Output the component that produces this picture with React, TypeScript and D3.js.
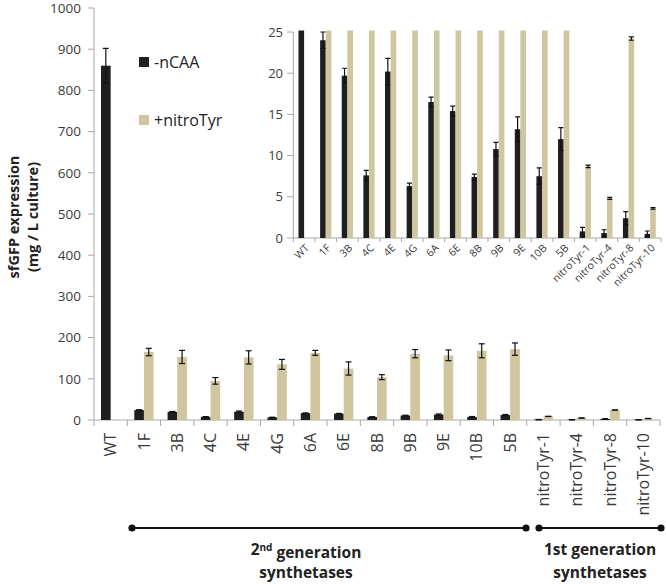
import React from "react";
import * as d3 from "d3";

const categories = ["WT","1F","3B","4C","4E","4G","6A","6E","8B","9B","9E","10B","5B","nitroTyr-1","nitroTyr-4","nitroTyr-8","nitroTyr-10"];
const nCAA = [860, 24.0, 19.7, 7.6, 20.2, 6.3, 16.5, 15.4, 7.4, 10.8, 13.2, 7.5, 12.0, 0.8, 0.6, 2.4, 0.5];
const nCAAErr = [42, 1.0, 0.9, 0.6, 1.6, 0.35, 0.6, 0.6, 0.35, 0.8, 1.5, 1.0, 1.4, 0.5, 0.4, 0.8, 0.35];
const nitroTyr = [0, 165, 153, 95, 152, 135, 163, 125, 104, 161, 157, 168, 172, 8.7, 4.8, 24.2, 3.6];
const nitroTyrErr = [0, 9, 16, 8, 16, 12, 6, 16, 6, 10, 13, 17, 15, 0.15, 0.12, 0.2, 0.1];
const mainTicks = [0, 100, 200, 300, 400, 500, 600, 700, 800, 900, 1000];
const insetTicks = [0, 5, 10, 15, 20, 25];
const legendLabels = ["-nCAA", "+nitroTyr"];
const groupLabels = ["2nd generation", "1st generation"];

const BLACK = "#1f1f1f";
const TAN = "#cfc59f";
const AXIS = "#a8a8a8";
const TXT = "#3a3a3a";
const FONT = "'Open Sans', sans-serif";

export default function App() {
  const W = 666, H = 584;
  // main chart scales
  const x = d3.scaleBand<string>().domain(categories).range([94, 660]).paddingInner(0).paddingOuter(0);
  const y = d3.scaleLinear().domain([0, 1000]).range([420, 8]);
  const bw = x.bandwidth() * 0.29;

  // inset scales
  const xi = d3.scaleBand<string>().domain(categories).range([293.3, 661]).paddingInner(0).paddingOuter(0);
  const yi = d3.scaleLinear().domain([0, 25]).range([238, 32]);
  const bwi = xi.bandwidth() * 0.26;

  const errBar = (cx: number, y1: number, y2: number, cap: number, key: string) => (
    <g key={key} stroke="#111" strokeWidth={1.2}>
      <line x1={cx} x2={cx} y1={y1} y2={y2} />
      <line x1={cx - cap / 2} x2={cx + cap / 2} y1={y1} y2={y1} />
      <line x1={cx - cap / 2} x2={cx + cap / 2} y1={y2} y2={y2} />
    </g>
  );

  return (
    <svg width={W} height={H} style={{ position: "absolute", left: 0, top: 0, background: "#fff" }} fontFamily={FONT}>
      <defs>
        <clipPath id="insetClip">
          <rect x={290} y={yi(25) - 1.5} width={380} height={yi(0) - yi(25) + 1.5} />
        </clipPath>
      </defs>
      <rect width={W} height={H} fill="#fff" />

      {/* ===== Main chart ===== */}
      <line x1={94} x2={94} y1={y(1000)} y2={y(0)} stroke={AXIS} strokeWidth={1} />
      {mainTicks.map((t) => (
        <g key={"mt" + t}>
          <line x1={88} x2={94} y1={y(t)} y2={y(t)} stroke={AXIS} />
          <text x={81} y={y(t)} dy="0.35em" textAnchor="end" fontSize={13.5} fill={TXT}>{t}</text>
        </g>
      ))}
      <line x1={94} x2={660} y1={y(0)} y2={y(0)} stroke={AXIS} />
      {categories.map((c) => (
        <line key={"mxt" + c} x1={x(c)!} x2={x(c)!} y1={y(0)} y2={y(0) + 6} stroke={AXIS} />
      ))}
      <line x1={660} x2={660} y1={y(0)} y2={y(0) + 6} stroke={AXIS} />
      {categories.map((c, i) => {
        const cx = x(c)! + x.bandwidth() / 2;
        return (
          <g key={"mb" + c}>
            <rect x={cx - bw} y={y(nCAA[i])} width={bw} height={y(0) - y(nCAA[i])} fill={BLACK} />
            {nitroTyr[i] > 0 && (
              <rect x={cx} y={y(nitroTyr[i])} width={bw} height={y(0) - y(nitroTyr[i])} fill={TAN} />
            )}
          </g>
        );
      })}
      {categories.map((c, i) => {
        const cx = x(c)! + x.bandwidth() / 2;
        return (
          <g key={"me" + c}>
            {errBar(cx - bw / 2, y(nCAA[i] + nCAAErr[i]), y(Math.max(0, nCAA[i] - nCAAErr[i])), 6, "a")}
            {nitroTyr[i] > 0 && errBar(cx + bw / 2, y(nitroTyr[i] + nitroTyrErr[i]), y(nitroTyr[i] - nitroTyrErr[i]), 6, "b")}
          </g>
        );
      })}
      {categories.map((c) => {
        const cx = x(c)! + x.bandwidth() / 2;
        return (
          <text key={"ml" + c} transform={`translate(${cx},${433}) rotate(-90)`} textAnchor="end" dy="0.35em" fontSize={16} fill={TXT}>{c}</text>
        );
      })}
      <g fontWeight="bold" fontSize={14.5} fill="#222">
        <text transform="translate(14,217) rotate(-90)" textAnchor="middle" dy="0.35em">sfGFP expression</text>
        <text transform="translate(33,217) rotate(-90)" textAnchor="middle" dy="0.35em">(mg / L culture)</text>
      </g>

      {/* legend */}
      <rect x={139} y={57} width={10} height={10} fill={BLACK} />
      <text x={154} y={62} dy="0.35em" fontSize={16} fill="#222">{legendLabels[0]}</text>
      <rect x={139} y={115} width={10} height={10} fill={TAN} />
      <text x={154} y={120} dy="0.35em" fontSize={16} fill="#222">{legendLabels[1]}</text>

      {/* ===== Inset ===== */}
      <line x1={293.3} x2={293.3} y1={yi(25)} y2={yi(0)} stroke={AXIS} />
      {insetTicks.map((t) => (
        <g key={"it" + t}>
          <line x1={287} x2={293.3} y1={yi(t)} y2={yi(t)} stroke={AXIS} />
          <text x={283} y={yi(t)} dy="0.35em" textAnchor="end" fontSize={13} fill={TXT}>{t}</text>
        </g>
      ))}
      <line x1={293.3} x2={661} y1={yi(0)} y2={yi(0)} stroke={AXIS} />
      {categories.map((c) => (
        <line key={"ixt" + c} x1={xi(c)!} x2={xi(c)!} y1={yi(0)} y2={yi(0) + 4} stroke={AXIS} />
      ))}
      <line x1={661} x2={661} y1={yi(0)} y2={yi(0) + 4} stroke={AXIS} />
      <g clipPath="url(#insetClip)">
        {categories.map((c, i) => {
          const cx = xi(c)! + xi.bandwidth() / 2;
          return (
            <g key={"ib" + c}>
              <rect x={cx - bwi} y={yi(nCAA[i])} width={bwi} height={yi(0) - yi(nCAA[i])} fill={BLACK} />
              {nitroTyr[i] > 0 && (
                <rect x={cx} y={yi(nitroTyr[i])} width={bwi} height={yi(0) - yi(nitroTyr[i])} fill={TAN} />
              )}
            </g>
          );
        })}
        {categories.map((c, i) => {
          const cx = xi(c)! + xi.bandwidth() / 2;
          return (
            <g key={"ie" + c}>
              {errBar(cx - bwi / 2, yi(nCAA[i] + nCAAErr[i]), yi(Math.max(0, nCAA[i] - nCAAErr[i])), 5, "a")}
              {nitroTyr[i] > 0 && errBar(cx + bwi / 2, yi(nitroTyr[i] + nitroTyrErr[i]), yi(nitroTyr[i] - nitroTyrErr[i]), 5, "b")}
            </g>
          );
        })}
      </g>
      {categories.map((c) => {
        const cx = xi(c)! + xi.bandwidth() / 2;
        return (
          <text key={"il" + c} transform={`translate(${cx + 3},${246}) rotate(-45)`} textAnchor="end" dy="0.35em" fontSize={10.5} fill={TXT}>{c}</text>
        );
      })}

      {/* ===== Group brackets ===== */}
      <g stroke="#111" strokeWidth={2}>
        <line x1={132} x2={526} y1={528} y2={528} />
        <line x1={539} x2={661} y1={528} y2={528} />
      </g>
      {[132, 526, 539, 661].map((cx) => (
        <circle key={"d" + cx} cx={cx} cy={528} r={3.6} fill="#111" />
      ))}
      <g fontWeight="bold" fontSize={15.5} fill="#222" textAnchor="middle">
        <text x={306} y={550} dy="0.35em">
          2<tspan fontSize={10} dy="-0.45em">nd</tspan><tspan dy="0.45em"> generation</tspan>
        </text>
        <text x={306} y={573} dy="0.35em">synthetases</text>
        <text x={600} y={550} dy="0.35em">{groupLabels[1]}</text>
        <text x={600} y={573} dy="0.35em">synthetases</text>
      </g>
    </svg>
  );
}
